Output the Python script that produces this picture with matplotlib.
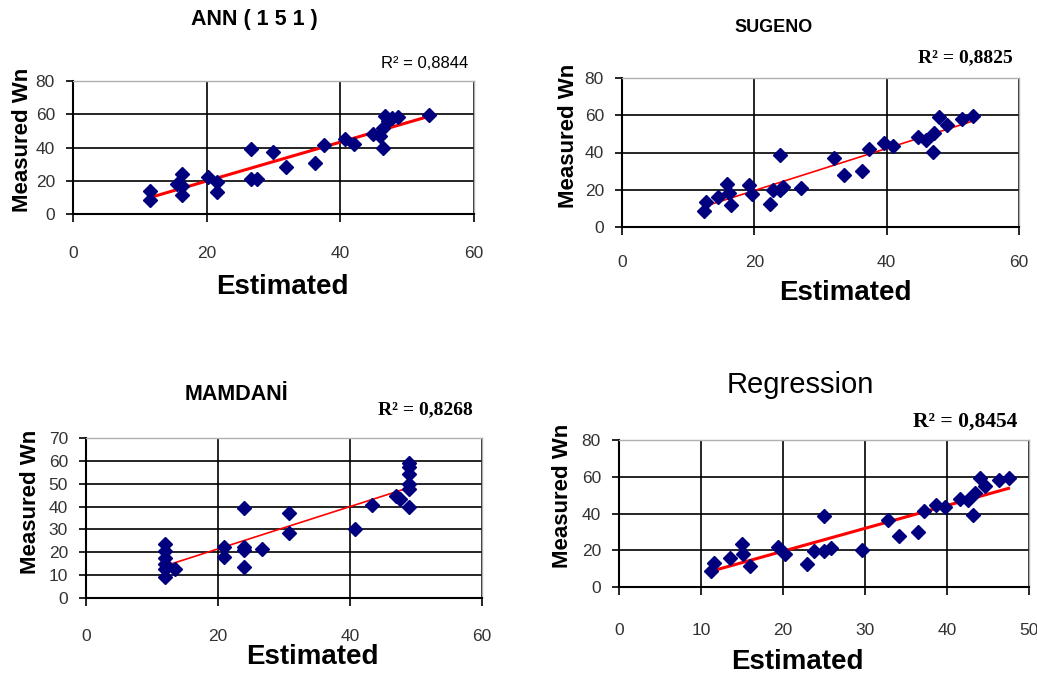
import matplotlib.pyplot as plt
import numpy as np

plt.rcParams['font.family'] = ['Liberation Sans', 'DejaVu Sans']

# estimated vs measured Wn
ann_est = [11.5, 11.5, 16.3, 15.5, 16.3, 16.3, 20.2, 21.5, 21.5, 26.7, 26.7, 27.5, 29.9, 31.9,
           36.2, 37.5, 40.7, 42.0, 44.9, 45.9, 46.4, 46.7, 47.2, 47.7, 48.7, 46.4, 53.3]
ann_meas = [14, 8.4, 24, 18, 17, 11.6, 22, 19, 13, 39, 21, 21, 37.4, 28,
            30.4, 41.6, 45, 42, 48, 47, 39.6, 59, 56, 58, 58.4, 52, 59.4]

sug_est = [12.4, 12.7, 14.5, 15.9, 16.1, 16.5, 19.2, 19.7, 22.4, 22.8, 23.9, 23.9, 24.4, 27.0,
           32.0, 33.6, 36.3, 37.3, 39.6, 41.0, 44.7, 46.0, 47.0, 47.2, 47.9, 49.1, 51.4, 53.1]
sug_meas = [8.4, 13.4, 16.1, 23.3, 18.4, 12.0, 22.4, 17.9, 12.5, 19.7, 38.8, 19.7, 21.5, 20.9,
            37.0, 27.7, 29.9, 41.7, 45.1, 43.5, 48.3, 46.5, 40.3, 50.6, 59.0, 54.9, 58.1, 59.4]

mam_est = [12.0, 12.0, 12.0, 12.0, 12.0, 12.0, 13.5, 20.9, 20.9, 23.9, 23.9, 23.9, 23.9, 26.7,
           30.8, 30.8, 40.8, 43.4, 46.9, 47.6, 48.9, 48.9, 48.9, 48.9, 48.9, 48.9]
mam_meas = [23.8, 20.4, 17.5, 15.0, 12.8, 9.2, 12.5, 22.3, 17.9, 39.4, 22.3, 20.8, 13.6, 21.6,
            37.2, 28.6, 30.3, 40.8, 44.6, 43.1, 59.2, 57.3, 54.4, 50.0, 47.8, 39.8]

reg_est = [11.2, 11.6, 13.5, 15.0, 15.1, 16.0, 19.4, 20.2, 22.9, 23.8, 25.0, 25.0, 25.9, 29.6,
           32.8, 34.2, 36.5, 37.2, 38.7, 39.8, 41.6, 42.6, 43.2, 43.4, 44.0, 44.6, 46.3, 47.5]
reg_meas = [8.5, 13.0, 15.8, 23.4, 17.9, 11.6, 21.6, 17.9, 12.5, 19.7, 38.9, 19.4, 21.2, 20.3,
            36.6, 27.5, 29.9, 41.1, 44.7, 43.3, 48.0, 47.3, 39.3, 51.1, 59.2, 54.7, 58.3, 59.2]

W, H = 1037, 675
fig = plt.figure(figsize=(W / 100, H / 100), dpi=100)
fig.patch.set_facecolor('white')


def fx(px):
    return px / W


def fy(py):
    return 1 - py / H


def panel(box, est, meas, xmax, xstep, ymax, ystep, lw, xpad):
    left, top, right, bottom = box
    ax = fig.add_axes([fx(left), fy(bottom), fx(right - left), (bottom - top) / H])
    ax.set_xlim(0, xmax)
    ax.set_ylim(0, ymax)
    ax.set_xticks(np.arange(0, xmax + 1, xstep))
    ax.set_yticks(np.arange(0, ymax + 1, ystep))
    ax.grid(True, color='black', linewidth=1.2)
    ax.set_axisbelow(True)
    for s in ['top', 'right']:
        ax.spines[s].set_color('#b0b0b0')
        ax.spines[s].set_linewidth(1.0)
    for s in ['left', 'bottom']:
        ax.spines[s].set_color('black')
        ax.spines[s].set_linewidth(1.5)
    ax.tick_params(axis='y', length=5, width=1.2, pad=8, labelsize=12.5, labelcolor='#333333')
    ax.tick_params(axis='x', length=6, width=1.2, pad=xpad, labelsize=12.5, labelcolor='#333333')
    x = np.array(est)
    y = np.array(meas)
    k, b = np.polyfit(x, y, 1)
    xs = np.array([x.min(), x.max()])
    ax.plot(xs, k * xs + b, color='red', linewidth=lw, zorder=2)
    ax.plot(x, y, linestyle='none', marker='D', markersize=7, color='#00007f', zorder=3,
            clip_on=False)
    return ax


panel((73, 81, 474, 214), ann_est, ann_meas, 60, 20, 80, 20, 2.2, 17)
panel((622, 78, 1019, 227), sug_est, sug_meas, 60, 20, 80, 20, 1.2, 14)
panel((86, 438, 482, 598), mam_est, mam_meas, 60, 20, 70, 10, 1.2, 16)
panel((619, 440, 1029, 587), reg_est, reg_meas, 50, 10, 80, 20, 2.2, 20)

# titles
fig.text(fx(254), fy(20), 'ANN ( 1 5 1 )', ha='center', va='center', fontsize=15.5,
         fontweight='bold')
fig.text(fx(774), fy(27), 'SUGENO', ha='center', va='center', fontsize=13,
         fontweight='bold')
fig.text(fx(237), fy(395), 'MAMDANİ', ha='center', va='center', fontsize=15.5,
         fontweight='bold')
fig.text(fx(800), fy(385), 'Regression', ha='center', va='center', fontsize=21)

# R squared
fig.text(fx(468), fy(63), 'R² = 0,8844', ha='right', va='center', fontsize=12)
fig.text(fx(1013), fy(58), 'R² = 0,8825', ha='right', va='center', fontsize=14,
         fontweight='bold', family='Liberation Serif')
fig.text(fx(473), fy(410), 'R² = 0,8268', ha='right', va='center', fontsize=14,
         fontweight='bold', family='Liberation Serif')
fig.text(fx(1017), fy(422), 'R² = 0,8454', ha='right', va='center', fontsize=15.5,
         fontweight='bold', family='Liberation Serif')

# axis titles
for px, py in [(282, 287), (845, 293), (312, 657), (797, 662)]:
    fig.text(fx(px), fy(py), 'Estimated', ha='center', va='center', fontsize=20,
             fontweight='bold')
for px, py in [(23, 140), (568, 136), (30, 502), (562, 496)]:
    fig.text(fx(px), fy(py), 'Measured Wn', ha='center', va='center', fontsize=16,
             fontweight='bold', rotation=90)

fig.savefig('out.png', dpi=100, facecolor='white')
